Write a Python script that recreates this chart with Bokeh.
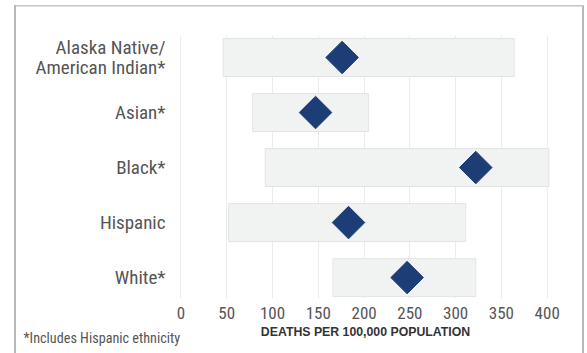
from bokeh.plotting import figure
from bokeh.models import Range1d, FixedTicker, Label, ColumnDataSource
from bokeh.embed import file_html
from bokeh.resources import INLINE
import math

categories = ["Alaska Native/\nAmerican Indian*", "Asian*", "Black*", "Hispanic", "White*"]
range_low = [46, 78, 92, 52, 166]
range_high = [364, 205, 402, 311, 322]
values = [176, 147, 322, 183, 247]
x_ticks = [0, 50, 100, 150, 200, 250, 300, 350, 400]

FONT = "Roboto Condensed, DejaVu Sans Condensed, sans-serif"
pos = list(range(len(categories)))

src = ColumnDataSource(dict(y=pos, low=range_low, high=range_high, val=values))

p = figure(width=587, height=353, output_backend="svg", toolbar_location=None,
           x_range=Range1d(-2.7, 405.8), y_range=Range1d(4.38, -0.4),
           min_border_left=178, min_border_right=35, min_border_top=35, min_border_bottom=55)
p.outline_line_color = None
p.background_fill_color = "white"
p.border_fill_color = None
p.styles = {
    "background-color": "white",
    "background-image": ("linear-gradient(#b8b8b8, #b8b8b8), "
                         "linear-gradient(#c6c6c6, #c6c6c6), "
                         "linear-gradient(#b8b8b8, #b8b8b8)"),
    "background-size": "2px 360px, 570px 1.5px, 2px 360px",
    "background-position": "14px 5px, 14px 5px, 582px 5px",
    "background-repeat": "no-repeat",
}

p.hbar(y="y", left="low", right="high", height=0.69, source=src,
       fill_color="#f1f2f2", line_color="#e3e4e5", line_width=1)
p.scatter(x="val", y="y", source=src, marker="square", size=23, angle=math.pi / 4,
          fill_color="#1d3d77", line_color="#1d3d77")

p.xgrid.ticker = FixedTicker(ticks=x_ticks)
p.xgrid.grid_line_color = "#ececec"
p.xgrid.grid_line_width = 1
p.ygrid.grid_line_color = None

xa = p.xaxis[0]
xa.ticker = FixedTicker(ticks=x_ticks)
xa.axis_line_color = None
xa.major_tick_line_color = None
xa.minor_tick_line_color = None
xa.major_tick_out = 0
xa.major_label_standoff = 8
xa.major_label_text_font = FONT
xa.major_label_text_font_size = "17px"
xa.major_label_text_color = "#555555"
xa.axis_label = "DEATHS PER 100,000 POPULATION"
xa.axis_label_text_font = "Liberation Sans"
xa.axis_label_text_font_style = "bold"
xa.axis_label_text_font_size = "12.3px"
xa.axis_label_text_color = "#333333"
xa.axis_label_standoff = 3

ya = p.yaxis[0]
ya.ticker = FixedTicker(ticks=pos)
ya.major_label_overrides = {i: c for i, c in zip(pos, categories)}
ya.axis_line_color = None
ya.major_tick_line_color = None
ya.minor_tick_line_color = None
ya.major_tick_out = 0
ya.major_label_standoff = 13
ya.major_label_text_font = FONT
ya.major_label_text_font_size = "19px"
ya.major_label_text_color = "#555555"
ya.major_label_text_line_height = 0.9

note = Label(x=-155, y=-302, x_units="screen", y_units="screen",
             text="*Includes Hispanic ethnicity", text_font=FONT,
             text_font_size="14.2px", text_color="#555555", text_baseline="middle")
p.add_layout(note, "above")

open("out.html", "w").write(file_html(p, INLINE))
